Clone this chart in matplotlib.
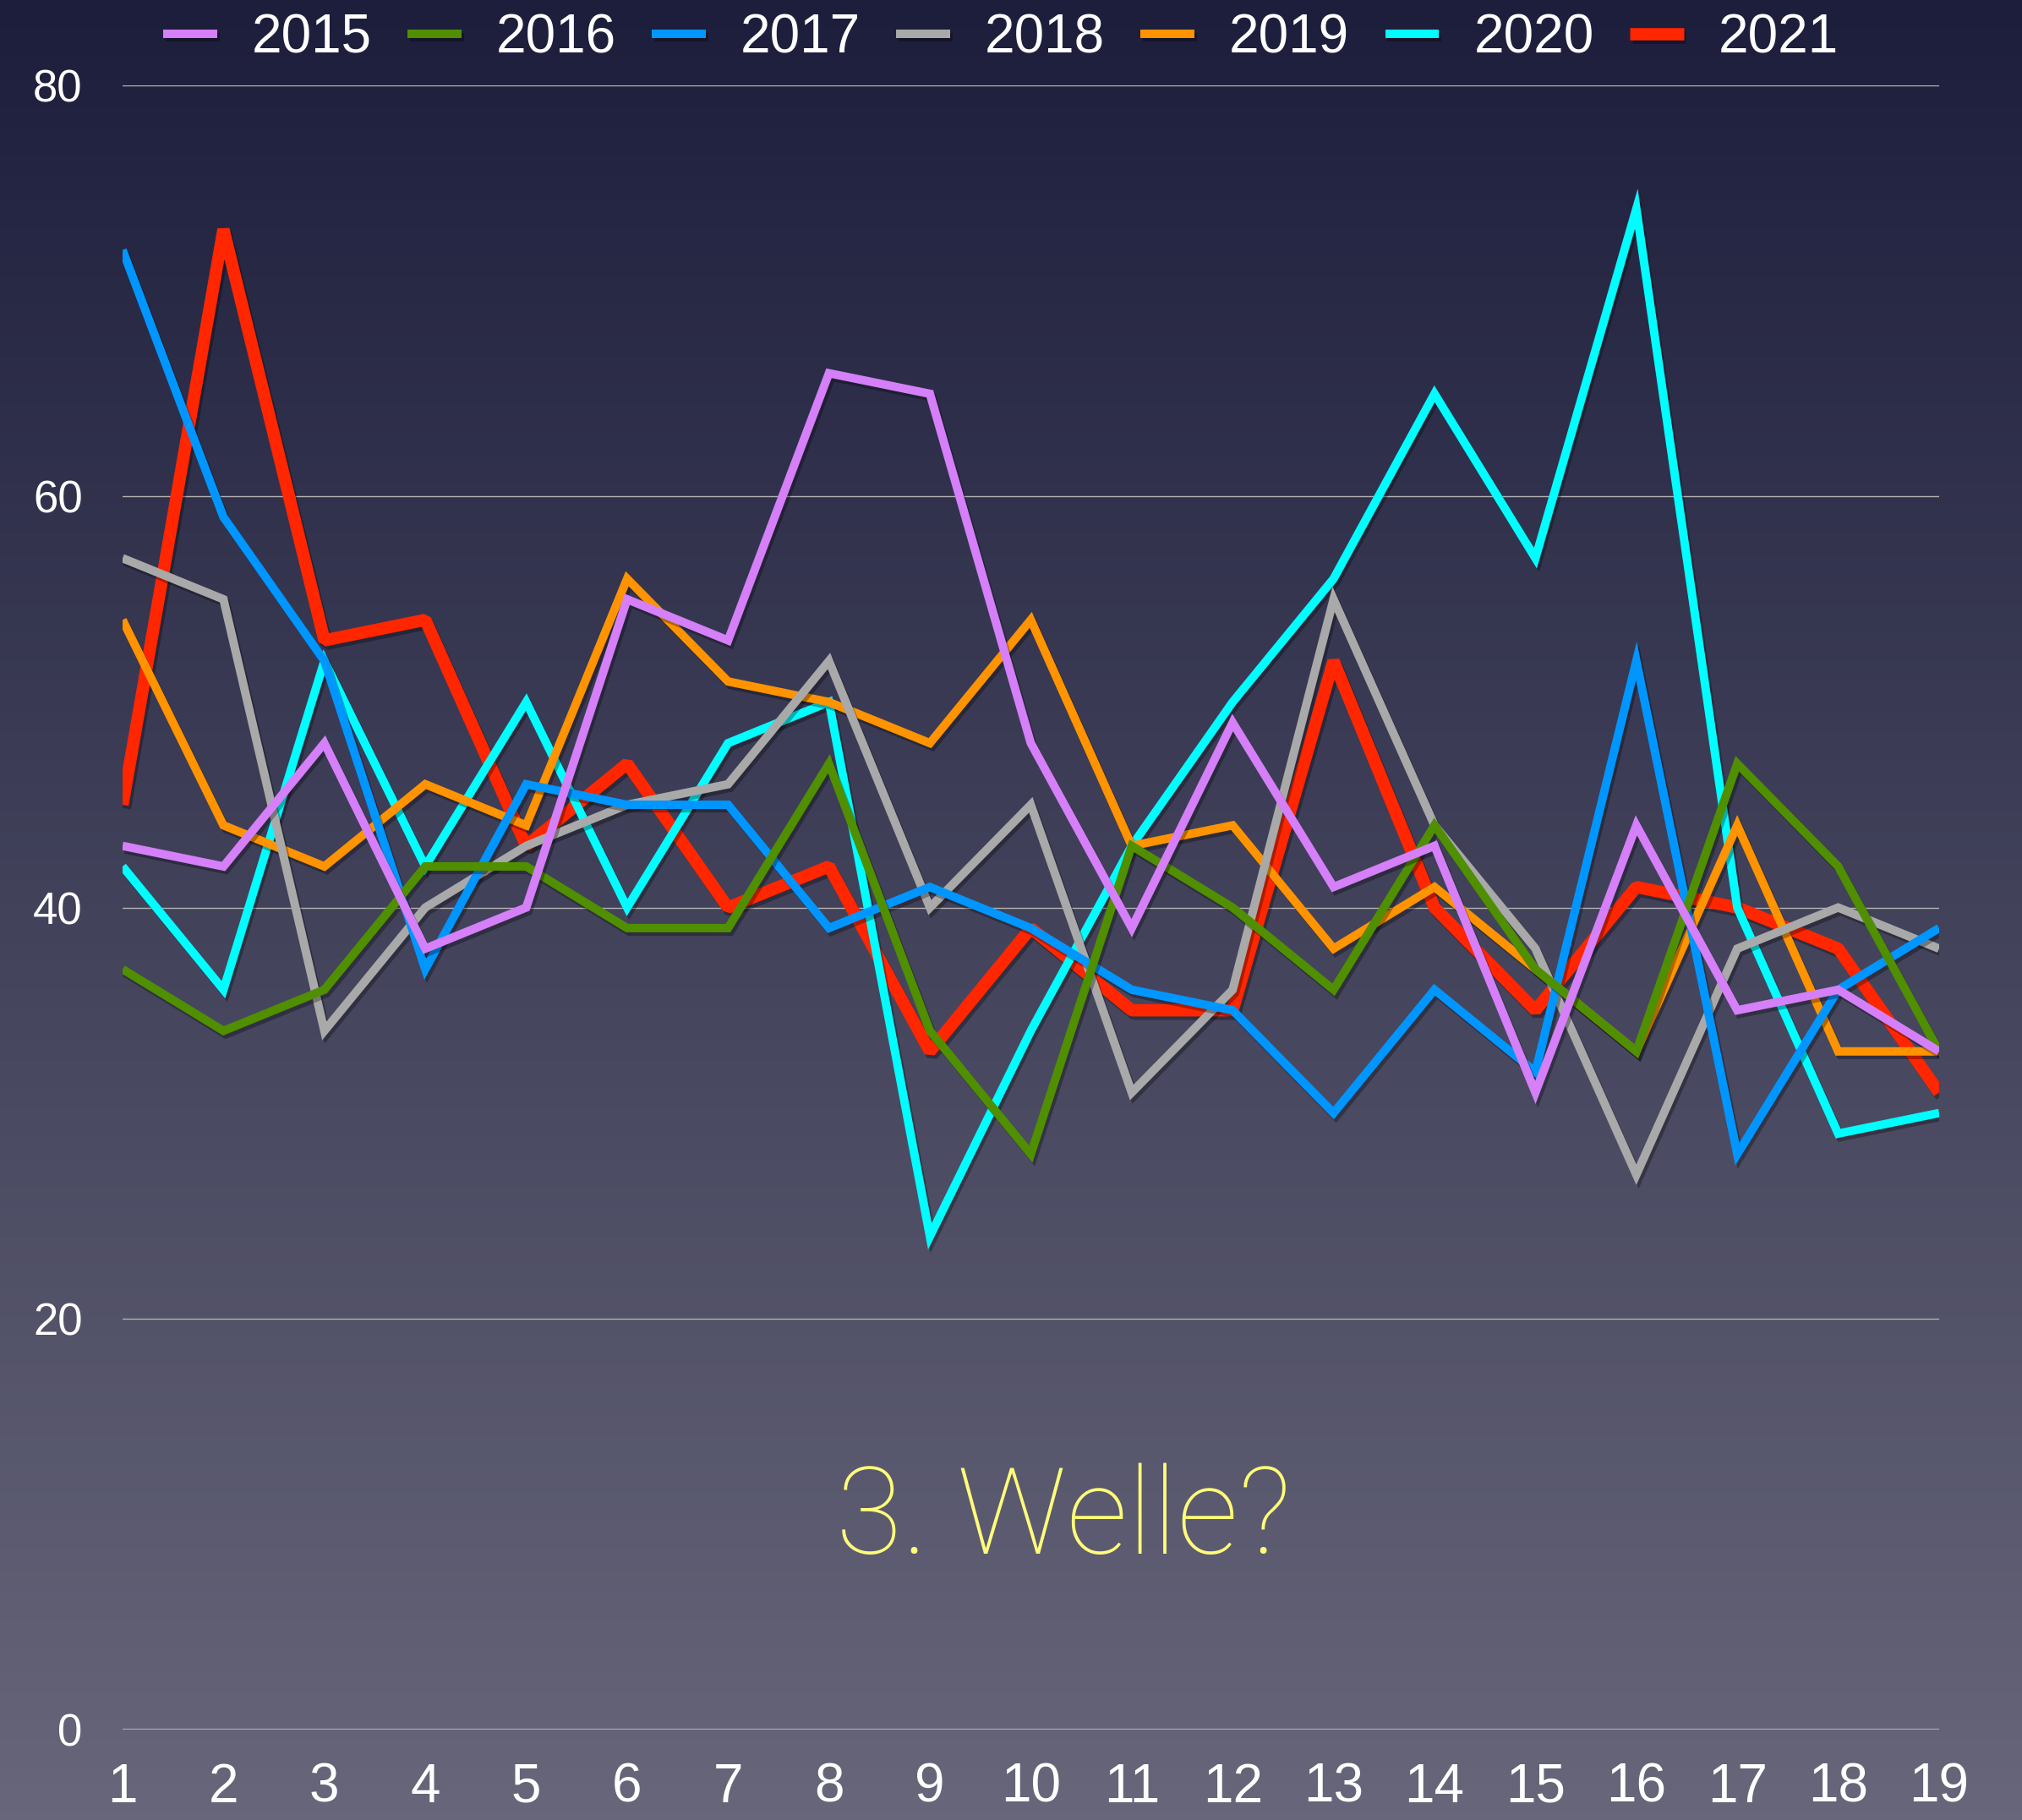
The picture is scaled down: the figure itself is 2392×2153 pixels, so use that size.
import numpy as np
import matplotlib
matplotlib.use("Agg")
from matplotlib import pyplot as plt
from matplotlib import patheffects as pe
from matplotlib.colors import LinearSegmentedColormap

weeks = list(range(1, 20))
years = ['2015', '2016', '2017', '2018', '2019', '2020', '2021']

v2015 = [43, 42, 48, 38, 40, 55, 53, 66, 65, 48, 39, 49, 41, 43, 31, 44, 35, 36, 33]
v2016 = [37, 34, 36, 42, 42, 39, 39, 47, 34, 28, 43, 40, 36, 44, 37, 33, 47, 42, 33]
v2017 = [72, 59, 52, 37, 46, 45, 45, 39, 41, 39, 36, 35, 30, 36, 32, 52, 28, 36, 39]
v2018 = [57, 55, 34, 40, 43, 45, 46, 52, 40, 45, 31, 36, 55, 44, 38, 27, 38, 40, 38]
v2019 = [54, 44, 42, 46, 44, 56, 51, 50, 48, 54, 43, 44, 38, 41, 37, 33, 44, 33, 33]
v2020 = [42, 36, 52, 42, 50, 40, 48, 50, 24, 34, 43, 50, 56, 65, 57, 74, 40, 29, 30]
v2021 = [45, 73, 53, 54, 43, 47, 40, 42, 33, 39, 35, 35, 52, 40, 35, 41, 40, 38, 31]

series = [v2015, v2016, v2017, v2018, v2019, v2020, v2021]
colors = ['#d57ff9', '#4f8f00', '#0096ff', '#a9a9a9', '#ff9300', '#00fdff', '#ff2600']
widths = [7.2, 7.2, 7.2, 7.2, 7.2, 7.2, 10.5]

fig = plt.figure(figsize=(23.92, 21.53), dpi=100)

# background gradient
bg = fig.add_axes([0, 0, 1, 1])
grad = LinearSegmentedColormap.from_list('bg', ['#1d1e3c', '#67667a'])
bg.imshow(np.linspace(0, 1, 256).reshape(-1, 1), aspect='auto', cmap=grad,
          extent=[0, 1, 0, 1])
bg.set_axis_off()

ax = fig.add_axes([0.0606, 0.0497, 0.8984, 0.9033])
ax.patch.set_alpha(0)

shadow = [pe.SimpleLineShadow(offset=(2, -3), shadow_color='black', alpha=0.3),
          pe.Normal()]

lines = []
for i in range(len(series)):
    join = 'bevel' if years[i] == '2021' else 'miter'
    ln, = ax.plot(weeks, series[i], color=colors[i], lw=widths[i],
                  label=years[i], zorder=10 - i, path_effects=shadow,
                  solid_joinstyle=join, solid_capstyle='butt')
    lines.append(ln)

ax.set_xlim(1, 19)
ax.set_ylim(0, 80)
ax.set_xticks(weeks)
ax.set_yticks([0, 20, 40, 60, 80])
for y in [20, 40, 60, 80]:
    ax.axhline(y, color='#b4b4b4', lw=1.0, zorder=1)
ax.axhline(0, color='#b4b4b4', lw=2.2, zorder=1)

for s in ax.spines.values():
    s.set_visible(False)
ax.tick_params(axis='both', length=0, colors='white')
ax.tick_params(axis='y', pad=34, labelsize=38)
ax.tick_params(axis='x', pad=28, labelsize=46)
for lab in ax.get_xticklabels() + ax.get_yticklabels():
    lab.set_fontfamily('Liberation Sans')

ax.text(10.32, 10.2, '3. Welle?', color='#fffc79', fontsize=103,
        family='Roboto', fontweight='light', ha='center', va='center')

leg = fig.legend(handles=lines, loc='center', bbox_to_anchor=(0.495, 0.979),
                 ncol=7, frameon=False, handlelength=1.0,
                 handletextpad=0.64, columnspacing=0.66,
                 prop={'family': 'Liberation Sans', 'size': 46})
for t in leg.get_texts():
    t.set_color('white')

fig.savefig('out.png', dpi=100)
